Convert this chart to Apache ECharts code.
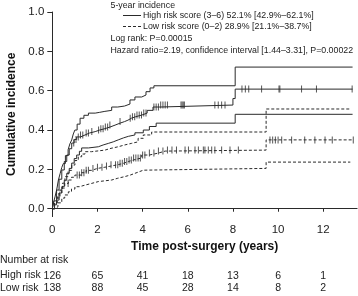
<!DOCTYPE html>
<html>
<head>
<meta charset="utf-8">
<script src="https://cdn.jsdelivr.net/npm/echarts@6/dist/echarts.min.js"></script>
<style>
  html, body { margin: 0; padding: 0; background: #fff; }
  #chart { width: 358px; height: 296px; }
</style>
</head>
<body>
<div id="chart"></div>
<script>
// step curves, [years, cumulative incidence]
const highUpper = [[0,0],[0.05,0.03],[0.12,0.06],[0.2,0.1],[0.27,0.146],[0.35,0.18],[0.42,0.21],[0.49,0.23],[0.58,0.27],[0.7,0.3],[0.78,0.33],[0.86,0.35],[0.93,0.38],[1.0,0.4],[1.1,0.43],[1.23,0.46],[1.4,0.475],[1.6,0.486],[1.9,0.49],[2.1,0.495],[2.33,0.5],[2.63,0.517],[2.9,0.522],[3.2,0.532],[3.44,0.553],[3.66,0.568],[3.96,0.578],[4.15,0.595],[4.33,0.614],[4.5,0.625],[8.1,0.72],[13.3,0.72]];
const highEst = [[0,0],[0.08,0.04],[0.19,0.095],[0.3,0.15],[0.42,0.197],[0.53,0.24],[0.64,0.273],[0.75,0.305],[0.86,0.334],[0.97,0.352],[1.08,0.365],[1.25,0.375],[1.45,0.385],[1.65,0.392],[1.9,0.4],[2.1,0.407],[2.33,0.415],[2.55,0.425],[2.78,0.435],[3.0,0.443],[3.2,0.45],[3.35,0.46],[3.5,0.468],[3.7,0.476],[3.96,0.486],[4.2,0.5],[4.46,0.517],[4.77,0.527],[8.0,0.56],[8.1,0.608],[13.3,0.608]];
const highLower = [[0,0],[0.1,0.02],[0.19,0.044],[0.3,0.08],[0.42,0.112],[0.53,0.145],[0.64,0.18],[0.75,0.205],[0.86,0.232],[0.97,0.255],[1.08,0.273],[1.2,0.292],[1.3,0.309],[1.6,0.315],[2.04,0.324],[2.25,0.332],[2.48,0.34],[2.7,0.35],[2.92,0.36],[3.15,0.368],[3.37,0.375],[3.66,0.386],[4.03,0.4],[4.3,0.418],[4.6,0.435],[8.1,0.48],[13.3,0.48]];
const lowUpper = [[0,0],[0.1,0.029],[0.22,0.06],[0.34,0.095],[0.45,0.13],[0.56,0.163],[0.7,0.195],[0.86,0.222],[1.0,0.245],[1.15,0.264],[1.3,0.278],[1.45,0.29],[1.74,0.298],[2.33,0.307],[2.6,0.315],[2.92,0.324],[3.2,0.332],[3.5,0.34],[3.8,0.358],[4.03,0.375],[4.4,0.39],[9.47,0.507],[13.2,0.507]];
const lowEst = [[0,0],[0.1,0.025],[0.19,0.054],[0.3,0.08],[0.42,0.105],[0.55,0.128],[0.71,0.146],[0.85,0.16],[1.0,0.171],[1.3,0.183],[1.5,0.195],[1.74,0.205],[2.0,0.211],[2.33,0.217],[2.6,0.224],[2.92,0.231],[3.15,0.24],[3.37,0.248],[3.6,0.258],[3.96,0.273],[4.3,0.283],[4.7,0.293],[5.0,0.298],[9.47,0.35],[13.33,0.35]];
const lowLower = [[0,0],[0.12,0.01],[0.25,0.03],[0.42,0.054],[0.55,0.07],[0.71,0.086],[0.85,0.1],[1.0,0.112],[1.2,0.12],[1.45,0.129],[1.75,0.138],[2.04,0.146],[2.63,0.155],[2.9,0.163],[3.2,0.171],[3.45,0.18],[3.66,0.188],[3.85,0.196],[4.03,0.205],[9.47,0.237],[13.2,0.237]];

// censoring times
const highCensor = [0.95,1.05,1.15,1.25,1.35,1.5,1.6,1.75,2.05,2.15,2.25,2.35,2.45,2.55,3.0,3.45,3.55,3.65,3.75,3.85,3.95,4.05,4.15,4.5,4.6,4.7,4.8,4.9,5.0,5.1,5.7,5.75,5.8,5.85,7.2,7.35,7.5,7.65,8.4,8.55,8.7,9.27,10.04,10.08,11.04,11.7,13.28];
const lowCensor = [0.7,1.1,1.2,1.3,1.4,1.5,1.6,1.8,2.0,2.2,2.4,2.6,2.8,2.9,3.0,3.1,3.2,3.3,3.4,3.5,3.6,3.7,3.8,3.9,4.0,4.1,4.3,4.5,4.7,4.9,5.1,5.3,5.5,5.88,6.03,6.32,6.47,6.69,6.76,6.91,7.06,7.2,7.5,7.87,8.24,9.64,9.76,9.88,10.0,10.16,10.6,11.18,11.63,12.08,12.4,13.33];

// axis ticks and number at risk
const yTicks = [0, 0.2, 0.4, 0.6, 0.8, 1.0];
const xTicks = [0, 2, 4, 6, 8, 10, 12];
const riskHigh = [126, 65, 41, 18, 13, 6, 1];
const riskLow = [138, 88, 45, 28, 14, 8, 2];

const legendLines = [
  'High risk score (3\u20136) 52.1% [42.9%\u201362.1%]',
  'Low risk score (0\u20132) 28.9% [21.1%\u201338.7%]'
];

function stepAt(curve, t) {
  let v = 0;
  for (const p of curve) { if (p[0] <= t) v = p[1]; }
  return v;
}

const ink = '#2a2a2a';
const font = '"Liberation Sans", Arial, Helvetica, sans-serif';
const small = '8.8px ' + font;
const table = '10.5px ' + font;

const chart = echarts.init(document.getElementById('chart'));

function curve(data, dashed) {
  return {
    type: 'line', step: 'end', data: data, showSymbol: false, symbol: 'none',
    lineStyle: { color: ink, width: 1, type: dashed ? [3, 2] : 'solid' },
    xAxisIndex: 0, yAxisIndex: 0, z: 2
  };
}
function censor(times, c) {
  return {
    type: 'scatter', data: times.map(t => [t, stepAt(c, t)]),
    symbol: 'rect', symbolSize: [1, 7], itemStyle: { color: ink },
    xAxisIndex: 0, yAxisIndex: 0, z: 3
  };
}
function riskAxis(values, offset) {
  return {
    type: 'value', min: 0, max: 13.5, position: 'bottom', offset: offset,
    axisLine: { show: false }, axisTick: { show: false }, splitLine: { show: false },
    axisLabel: {
      customValues: xTicks, margin: 0, fontSize: 10.5, color: '#222', fontFamily: font,
      formatter: v => values[xTicks.indexOf(v)]
    }
  };
}

const option = {
  animation: false,
  grid: { left: 52.3, right: 0.9, top: 12, bottom: 79.4, outerBoundsMode: 'none' },
  xAxis: [
    {
      type: 'value', min: 0, max: 13.5,
      name: 'Time post-surgery (years)', nameLocation: 'middle', nameGap: 21,
      nameTextStyle: { fontSize: 12, fontWeight: 'bold', color: '#111', fontFamily: font },
      axisLine: { lineStyle: { color: ink, width: 1 } },
      axisTick: { customValues: xTicks, length: 3, lineStyle: { color: ink } },
      axisLabel: { customValues: xTicks, margin: 7, fontSize: 11.5, color: '#222', fontFamily: font },
      splitLine: { show: false }
    },
    riskAxis(riskHigh, 54),
    riskAxis(riskLow, 66.5)
  ],
  yAxis: {
    type: 'value', min: -0.04, max: 1.0,
    name: 'Cumulative incidence', nameLocation: 'middle', nameGap: 33,
    nameTextStyle: { fontSize: 12, fontWeight: 'bold', color: '#111', fontFamily: font },
    axisLine: { show: true, lineStyle: { color: ink, width: 1 } },
    axisTick: { show: true, customValues: yTicks, length: 5, lineStyle: { color: ink } },
    axisLabel: { customValues: yTicks, margin: 8, fontSize: 11.5, color: '#222', fontFamily: font,
      formatter: v => v.toFixed(1) },
    splitLine: { show: false }
  },
  series: [
    curve(highUpper, false), curve(highEst, false), curve(highLower, false),
    curve(lowUpper, true), curve(lowEst, true), curve(lowLower, true),
    censor(highCensor, highEst), censor(lowCensor, lowEst)
  ],
  graphic: [
    { type: 'text', left: 110.5, top: 1, style: { text: '5-year incidence', font: small, fill: '#222' } },
    { type: 'line', shape: { x1: 123, y1: 15.5, x2: 141, y2: 15.5 }, style: { stroke: ink, lineWidth: 1 } },
    { type: 'text', left: 143, top: 11, style: { text: legendLines[0], font: small, fill: '#222' } },
    { type: 'line', shape: { x1: 123, y1: 26.5, x2: 141, y2: 26.5 }, style: { stroke: ink, lineWidth: 1, lineDash: [3, 2] } },
    { type: 'text', left: 143, top: 22, style: { text: legendLines[1], font: small, fill: '#222' } },
    { type: 'text', left: 110.5, top: 34.5, style: { text: 'Log rank: P=0.00015', font: small, fill: '#222' } },
    { type: 'text', left: 110.5, top: 46.5, style: { text: 'Hazard ratio=2.19, confidence interval [1.44\u20133.31], P=0.00022', font: small, fill: '#222' } },
    { type: 'text', left: 0, top: 255, style: { text: 'Number at risk', font: table, fill: '#222' } },
    { type: 'text', left: 0, top: 270, style: { text: 'High risk', font: table, fill: '#222' } },
    { type: 'text', left: 0, top: 283, style: { text: 'Low risk', font: table, fill: '#222' } }
  ]
};

chart.setOption(option);
</script>
</body>
</html>
